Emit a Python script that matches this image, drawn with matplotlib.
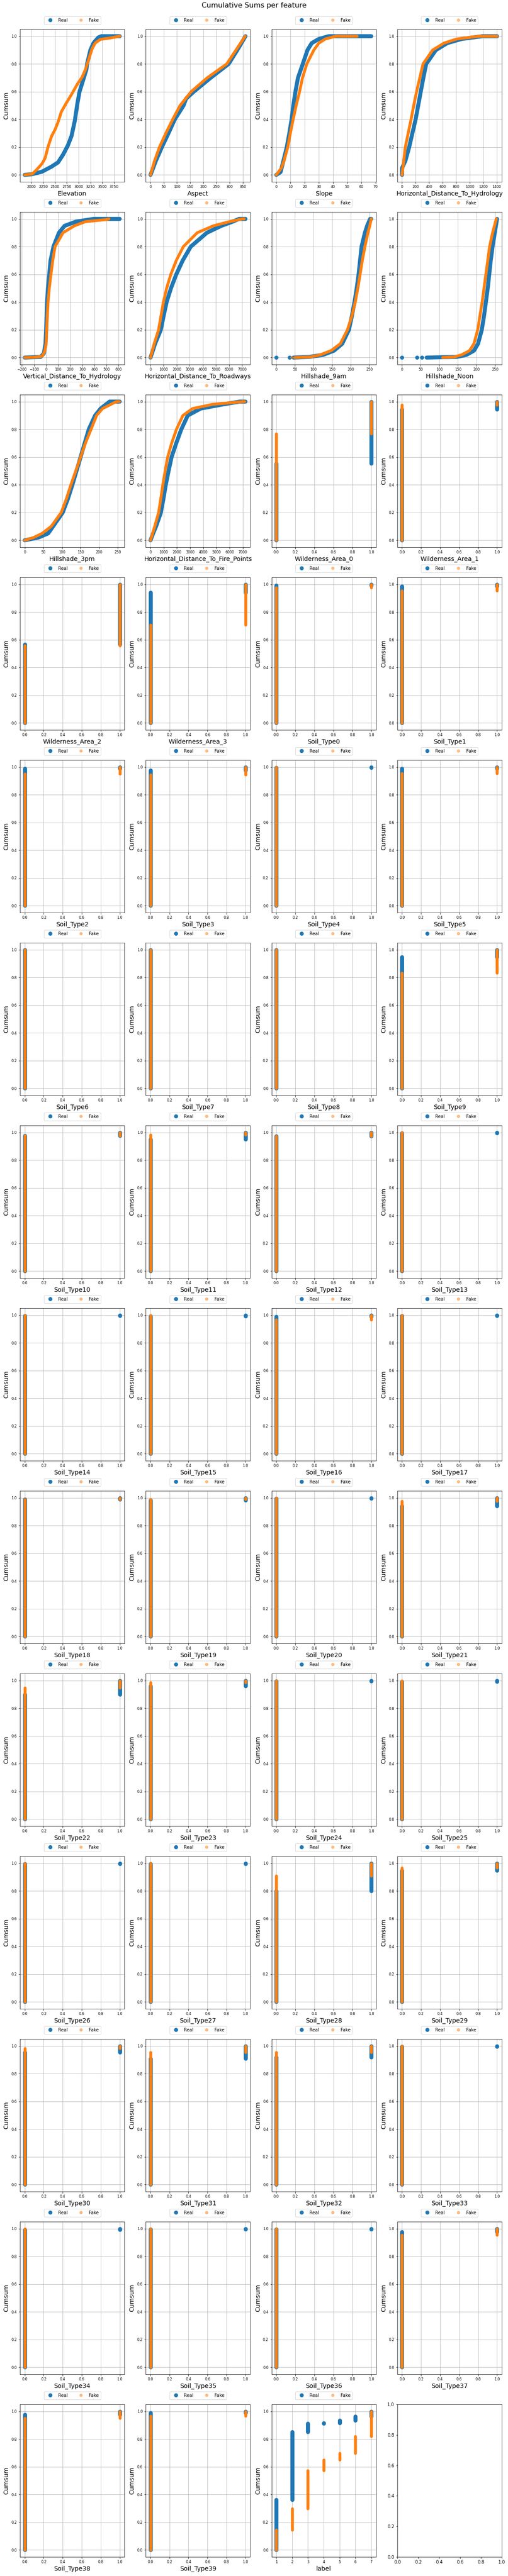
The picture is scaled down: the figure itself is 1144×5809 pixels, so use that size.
import matplotlib
matplotlib.use("Agg")
import matplotlib.pyplot as plt
from matplotlib.lines import Line2D

REAL = "#1f77b4"
FAKE = "#ff7f0e"

# --- continuous features: sorted value (x) read at cumulative level (y) ---
elevation_real_x = [1860, 2020, 2225, 2430, 2565, 2670, 2770, 2850, 2920, 2975, 3020, 3075, 3165, 3180, 3250, 3315, 3415, 3480, 3870]
elevation_real_y = [0, 0.005, 0.023, 0.06, 0.09, 0.145, 0.21, 0.28, 0.39, 0.515, 0.6, 0.66, 0.76, 0.8, 0.9, 0.95, 0.99, 1.0, 1.0]
elevation_fake_x = [1860, 2020, 2120, 2225, 2290, 2360, 2430, 2500, 2565, 2635, 2735, 2850, 2975, 3075, 3145, 3215, 3285, 3350, 3460, 3665, 3870]
elevation_fake_y = [0, 0.007, 0.04, 0.08, 0.12, 0.21, 0.28, 0.325, 0.38, 0.455, 0.515, 0.58, 0.655, 0.705, 0.76, 0.834, 0.908, 0.95, 0.977, 0.987, 1.0]

aspect_real_x = [0, 20, 43, 68, 92, 125, 135, 164, 228, 296, 329, 360]
aspect_real_y = [0, 0.1, 0.2, 0.3, 0.4, 0.5, 0.55, 0.6, 0.7, 0.8, 0.9, 1.0]
aspect_fake_x = [0, 15, 34, 58, 84, 112, 154, 215, 289, 324, 359]
aspect_fake_y = [0, 0.1, 0.2, 0.3, 0.4, 0.5, 0.6, 0.7, 0.8, 0.9, 1.0]

slope_real_x = [0, 3, 5, 7.4, 9.2, 10.8, 12, 13.5, 15.3, 18.7, 22, 25, 30, 37, 67]
slope_real_y = [0, 0.02, 0.1, 0.2, 0.3, 0.4, 0.5, 0.6, 0.7, 0.8, 0.9, 0.95, 0.98, 1.0, 1.0]
slope_fake_x = [0, 3.6, 5.4, 8.1, 9.9, 11.9, 14, 16.4, 18.5, 21.5, 26.5, 30, 34.6, 42, 57]
slope_fake_y = [0, 0.05, 0.1, 0.2, 0.3, 0.4, 0.5, 0.6, 0.7, 0.8, 0.9, 0.95, 0.98, 1.0, 1.0]

hdh_real_x = [0, 0, 48, 105, 152, 200, 238, 276, 315, 357, 500, 667, 881, 1190, 1405]
hdh_real_y = [0, 0.05, 0.1, 0.2, 0.3, 0.4, 0.5, 0.6, 0.7, 0.8, 0.9, 0.95, 0.98, 1.0, 1.0]
hdh_fake_x = [0, 24, 48, 90, 133, 172, 214, 262, 310, 452, 619, 810, 1143, 1405]
hdh_fake_y = [0, 0.1, 0.2, 0.3, 0.4, 0.5, 0.6, 0.7, 0.8, 0.9, 0.95, 0.98, 1.0, 1.0]

vdh_real_x = [-177, -45, -19, -5, 0, 4, 8, 15, 26, 37, 61, 106, 153, 246, 392, 609]
vdh_real_y = [0, 0.005, 0.03, 0.1, 0.2, 0.3, 0.4, 0.5, 0.6, 0.7, 0.8, 0.9, 0.95, 0.98, 1.0, 1.0]
vdh_fake_x = [-177, -100, -32, -10, 0, 5, 10, 16, 26, 40, 55, 74, 140, 233, 325, 497, 520]
vdh_fake_y = [0, 0.002, 0.01, 0.05, 0.1, 0.2, 0.3, 0.4, 0.5, 0.6, 0.7, 0.8, 0.9, 0.95, 0.98, 0.995, 1.0]

hdr_real_x = [0, 350, 786, 1000, 1228, 1560, 1966, 2457, 3071, 4300, 5405, 6265, 6757, 7248]
hdr_real_y = [0, 0.1, 0.2, 0.3, 0.4, 0.5, 0.6, 0.7, 0.8, 0.9, 0.95, 0.98, 1.0, 1.0]
hdr_fake_x = [0, 280, 614, 800, 983, 1230, 1548, 1966, 2506, 3563, 4791, 6020, 7003, 7150]
hdr_fake_y = [0, 0.1, 0.2, 0.3, 0.4, 0.5, 0.6, 0.7, 0.8, 0.9, 0.95, 0.98, 1.0, 1.0]

hs9_real_x = [46, 89, 126, 155, 177, 195, 203, 210, 216, 221, 225, 229, 238, 244, 252, 255]
hs9_real_y = [0, 0.005, 0.02, 0.05, 0.1, 0.2, 0.3, 0.4, 0.5, 0.6, 0.7, 0.8, 0.9, 0.95, 1.0, 1.0]
hs9_fake_x = [50, 93, 118, 147, 172, 191, 203, 212, 219, 225, 231, 238, 246, 251, 255]
hs9_fake_y = [0, 0.005, 0.02, 0.05, 0.1, 0.2, 0.3, 0.4, 0.5, 0.6, 0.7, 0.8, 0.9, 0.95, 1.0]
hs9_real_outliers = [0, 35]
hs9_fake_outliers = [42]

noon_real_x = [66, 148, 173, 193, 204, 214, 220, 225, 230, 234, 238, 243, 249, 255]
noon_real_y = [0, 0.005, 0.02, 0.05, 0.1, 0.2, 0.3, 0.4, 0.5, 0.6, 0.7, 0.8, 0.9, 1.0]
noon_fake_x = [109, 140, 160, 181, 193, 203, 209, 215, 220, 225, 230, 235, 243, 253]
noon_fake_y = [0, 0.005, 0.02, 0.05, 0.1, 0.2, 0.3, 0.4, 0.5, 0.6, 0.7, 0.8, 0.9, 1.0]
noon_real_outliers = [0, 40, 53]

hs3_real_x = [0, 37, 63, 76, 102, 116, 128, 139, 150, 161, 172, 189, 204, 228, 255]
hs3_real_y = [0, 0.02, 0.05, 0.1, 0.2, 0.3, 0.4, 0.5, 0.6, 0.7, 0.8, 0.9, 0.95, 1.0, 1.0]
hs3_fake_x = [0, 24, 47, 71, 98, 112, 124, 137, 150, 163, 178, 193, 209, 246, 254]
hs3_fake_y = [0, 0.02, 0.05, 0.1, 0.2, 0.3, 0.4, 0.5, 0.6, 0.7, 0.8, 0.9, 0.95, 1.0, 1.0]

hdfp_real_x = [0, 200, 420, 786, 980, 1155, 1370, 1597, 1950, 2334, 2825, 3808, 5500, 6757, 7200]
hdfp_real_y = [0, 0.05, 0.1, 0.2, 0.3, 0.4, 0.5, 0.6, 0.7, 0.8, 0.9, 0.95, 0.98, 1.0, 1.0]
hdfp_fake_x = [0, 320, 614, 780, 934, 1110, 1302, 1600, 1966, 2457, 3194, 4700, 7003, 7150]
hdfp_fake_y = [0, 0.1, 0.2, 0.3, 0.4, 0.5, 0.6, 0.7, 0.8, 0.9, 0.95, 0.98, 1.0, 1.0]

# --- binary features: share of zeros (top of the x=0 bar) ---
binary_names = ["Wilderness_Area_0", "Wilderness_Area_1", "Wilderness_Area_2", "Wilderness_Area_3"] + \
    ["Soil_Type%d" % i for i in range(40)]
binary_real_p0 = [0.555, 0.945, 0.568, 0.94,
                  0.993, 0.985, 0.99, 0.978, 0.997, 0.988, 0.998, 0.998, 0.998, 0.947,
                  0.977, 0.95, 0.972, 0.997, 0.997, 0.992, 0.99, 0.997, 0.99, 0.982,
                  0.997, 0.94, 0.90, 0.96, 0.997, 0.992, 0.995, 0.995, 0.80, 0.948,
                  0.955, 0.908, 0.92, 0.995, 0.993, 0.995, 0.995, 0.978, 0.978, 0.99]
binary_fake_p0 = [0.768, 0.975, 0.558, 0.708,
                  0.975, 0.955, 0.952, 0.945, 1.0, 0.955, 1.0, 1.0, 1.0, 0.832,
                  0.975, 0.983, 0.974, 1.0, 1.0, 1.0, 0.968, 1.0, 0.99, 0.99,
                  1.0, 0.975, 0.947, 0.985, 1.0, 1.0, 1.0, 1.0, 0.91, 0.968,
                  0.982, 0.955, 0.955, 1.0, 1.0, 1.0, 1.0, 0.953, 0.95, 0.968]

# --- label: cumulative share at the end of each class ---
label_values = [1, 2, 3, 4, 5, 6, 7]
label_real_cum = [0.363, 0.852, 0.912, 0.917, 0.935, 0.965, 1.0]
label_fake_cum = [0.145, 0.30, 0.573, 0.65, 0.697, 0.82, 1.0]


def draw_curve(ax, xs, ys, color, width):
    ax.plot(xs, ys, color=color, lw=width, solid_capstyle="round", solid_joinstyle="round")


def draw_steps(ax, values, cum, color, width):
    lo = 0.0
    for v, c in zip(values, cum):
        if c > lo:
            ax.plot([v, v], [lo, c], color=color, lw=width, solid_capstyle="round")
        lo = c


def finish(ax, name):
    ax.set_xlabel(name, fontsize=14)
    ax.set_ylabel("Cumsum", fontsize=14)
    ax.tick_params(axis="both", which="major", labelsize=8)
    handles = [Line2D([], [], marker="o", ls="none", ms=8, color=REAL, label="Real"),
               Line2D([], [], marker="o", ls="none", ms=6, color=FAKE, alpha=0.5, label="Fake")]
    ax.legend(handles=handles, loc="upper center", bbox_to_anchor=(0.5, 1.1), ncol=3)


continuous = [
    ("Elevation", elevation_real_x, elevation_real_y, elevation_fake_x, elevation_fake_y),
    ("Aspect", aspect_real_x, aspect_real_y, aspect_fake_x, aspect_fake_y),
    ("Slope", slope_real_x, slope_real_y, slope_fake_x, slope_fake_y),
    ("Horizontal_Distance_To_Hydrology", hdh_real_x, hdh_real_y, hdh_fake_x, hdh_fake_y),
    ("Vertical_Distance_To_Hydrology", vdh_real_x, vdh_real_y, vdh_fake_x, vdh_fake_y),
    ("Horizontal_Distance_To_Roadways", hdr_real_x, hdr_real_y, hdr_fake_x, hdr_fake_y),
    ("Hillshade_9am", hs9_real_x, hs9_real_y, hs9_fake_x, hs9_fake_y),
    ("Hillshade_Noon", noon_real_x, noon_real_y, noon_fake_x, noon_fake_y),
    ("Hillshade_3pm", hs3_real_x, hs3_real_y, hs3_fake_x, hs3_fake_y),
    ("Horizontal_Distance_To_Fire_Points", hdfp_real_x, hdfp_real_y, hdfp_fake_x, hdfp_fake_y),
]
real_outliers = {"Hillshade_9am": hs9_real_outliers, "Hillshade_Noon": noon_real_outliers}
fake_outliers = {"Hillshade_9am": hs9_fake_outliers}

W, H, DPI = 1144, 5809, 72
fig, ax = plt.subplots(14, 4, figsize=(W / DPI, H / DPI), dpi=DPI)
fig.subplots_adjust(left=45 / W, right=1130 / W, top=1 - 66 / H, bottom=1 - 5766 / H,
                    wspace=48 / 235, hspace=68 / 344)
fig.suptitle("Cumulative Sums per feature", fontsize=16, y=0.9991)
axes = ax.flatten()

i = 0
for name, rx, ry, fx, fy in continuous:
    a = axes[i]
    a.grid()
    draw_curve(a, rx, ry, REAL, 9)
    if name in real_outliers:
        a.plot(real_outliers[name], [0] * len(real_outliers[name]), "o", ms=8, color=REAL)
    draw_curve(a, fx, fy, FAKE, 6.5)
    if name in fake_outliers:
        a.plot(fake_outliers[name], [0] * len(fake_outliers[name]), "o", ms=6, color=FAKE, alpha=0.5)
    finish(a, name)
    i += 1

for name, pr, pf in zip(binary_names, binary_real_p0, binary_fake_p0):
    a = axes[i]
    a.grid()
    draw_steps(a, [0, 1], [pr, 1.0], REAL, 9)
    draw_steps(a, [0, 1], [pf, 1.0], FAKE, 6.5)
    finish(a, name)
    i += 1

a = axes[i]
a.grid()
draw_steps(a, label_values, label_real_cum, REAL, 9)
draw_steps(a, label_values, label_fake_cum, FAKE, 6.5)
finish(a, "label")

fig.savefig("out.png", dpi=DPI)
